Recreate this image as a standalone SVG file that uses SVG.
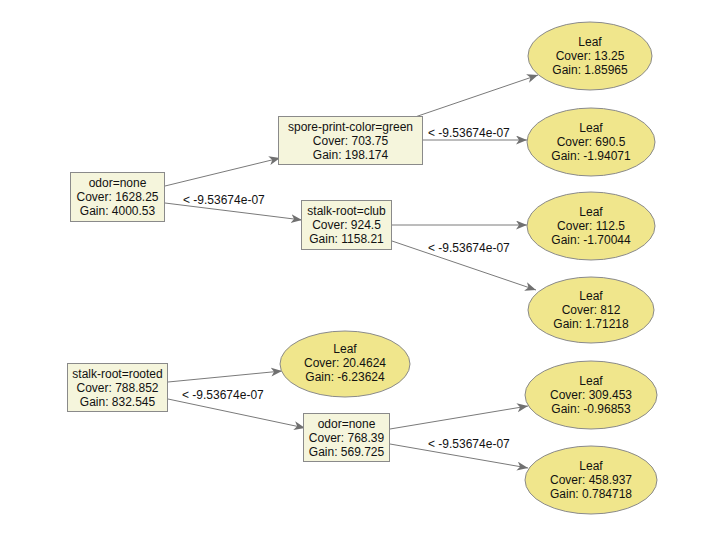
<svg xmlns="http://www.w3.org/2000/svg" width="718" height="545" viewBox="0 0 718 545">
<defs>
<marker id="arr" markerWidth="12" markerHeight="10" refX="11" refY="4.5" orient="auto" markerUnits="userSpaceOnUse">
<path d="M0,0 L11,4.5 L0,9 L3,4.5 z" fill="#707070"/>
</marker>
<style>
.box{fill:#f5f5dc;stroke:#8a8a8a;stroke-width:1}
.leaf{fill:#f0e68c;stroke:#8a8a8a;stroke-width:1}
.e{stroke:#7a7a7a;stroke-width:1;fill:none;marker-end:url(#arr)}
text{font-family:"Liberation Sans",Arial,sans-serif;font-size:12px;fill:#111}
.c{text-anchor:middle}
</style>
</defs>
<rect width="718" height="545" fill="#ffffff"/>
<g id="connectors">
<path class="e" d="M165,186 L280,158"/>
<path class="e" d="M165,203 L302,220"/>
<path class="e" d="M415,117 L538,75"/>
<path class="e" d="M423,140 L527,140"/>
<path class="e" d="M392,225 L527,225"/>
<path class="e" d="M392,241 L536,290"/>
<path class="e" d="M168,382 L282,371"/>
<path class="e" d="M168,399 L305,428"/>
<path class="e" d="M390,429 L528,406"/>
<path class="e" d="M390,444 L528,468"/>
<text x="183" y="204">&lt; -9.53674e-07</text>
<text x="428" y="137">&lt; -9.53674e-07</text>
<text x="428" y="252">&lt; -9.53674e-07</text>
<text x="182" y="399">&lt; -9.53674e-07</text>
<text x="428" y="448">&lt; -9.53674e-07</text>
</g>
<g id="n_root1">
<rect class="box" x="70.5" y="172.5" width="94" height="49"/>
<text class="c" x="117.5" y="187">odor=none</text>
<text class="c" x="117.5" y="201">Cover: 1628.25</text>
<text class="c" x="117.5" y="215">Gain: 4000.53</text>
</g>
<g id="n_spore">
<rect class="box" x="278.5" y="116.5" width="144" height="48"/>
<text class="c" x="350.5" y="130.5">spore-print-color=green</text>
<text class="c" x="350.5" y="144.5">Cover: 703.75</text>
<text class="c" x="350.5" y="158.5">Gain: 198.174</text>
</g>
<g id="n_club">
<rect class="box" x="301.5" y="200.5" width="90" height="49"/>
<text class="c" x="346.5" y="215">stalk-root=club</text>
<text class="c" x="346.5" y="229">Cover: 924.5</text>
<text class="c" x="346.5" y="243">Gain: 1158.21</text>
</g>
<g id="n_leaf1">
<ellipse class="leaf" cx="590" cy="56" rx="62" ry="34"/>
<text class="c" x="590" y="46">Leaf</text>
<text class="c" x="590" y="60">Cover: 13.25</text>
<text class="c" x="590" y="74">Gain: 1.85965</text>
</g>
<g id="n_leaf2">
<ellipse class="leaf" cx="591" cy="142" rx="64" ry="34"/>
<text class="c" x="591" y="132">Leaf</text>
<text class="c" x="591" y="146">Cover: 690.5</text>
<text class="c" x="591" y="160">Gain: -1.94071</text>
</g>
<g id="n_leaf3">
<ellipse class="leaf" cx="591" cy="226" rx="64" ry="34"/>
<text class="c" x="591" y="216">Leaf</text>
<text class="c" x="591" y="230">Cover: 112.5</text>
<text class="c" x="591" y="244">Gain: -1.70044</text>
</g>
<g id="n_leaf4">
<ellipse class="leaf" cx="591" cy="310" rx="63" ry="33"/>
<text class="c" x="591" y="300">Leaf</text>
<text class="c" x="591" y="314">Cover: 812</text>
<text class="c" x="591" y="328">Gain: 1.71218</text>
</g>
<g id="n_root2">
<rect class="box" x="67.5" y="363.5" width="100" height="48"/>
<text class="c" x="117.5" y="377.5">stalk-root=rooted</text>
<text class="c" x="117.5" y="391.5">Cover: 788.852</text>
<text class="c" x="117.5" y="405.5">Gain: 832.545</text>
</g>
<g id="n_leaf5">
<ellipse class="leaf" cx="345" cy="364" rx="65" ry="33"/>
<text class="c" x="345" y="353">Leaf</text>
<text class="c" x="345" y="367">Cover: 20.4624</text>
<text class="c" x="345" y="381">Gain: -6.23624</text>
</g>
<g id="n_odor2">
<rect class="box" x="303.5" y="413.5" width="86" height="48"/>
<text class="c" x="346.5" y="427.5">odor=none</text>
<text class="c" x="346.5" y="441.5">Cover: 768.39</text>
<text class="c" x="346.5" y="455.5">Gain: 569.725</text>
</g>
<g id="n_leaf6">
<ellipse class="leaf" cx="591" cy="395" rx="66" ry="34"/>
<text class="c" x="591" y="385">Leaf</text>
<text class="c" x="591" y="399">Cover: 309.453</text>
<text class="c" x="591" y="413">Gain: -0.96853</text>
</g>
<g id="n_leaf7">
<ellipse class="leaf" cx="591" cy="480" rx="66" ry="34"/>
<text class="c" x="591" y="470">Leaf</text>
<text class="c" x="591" y="484">Cover: 458.937</text>
<text class="c" x="591" y="498">Gain: 0.784718</text>
</g>
</svg>
